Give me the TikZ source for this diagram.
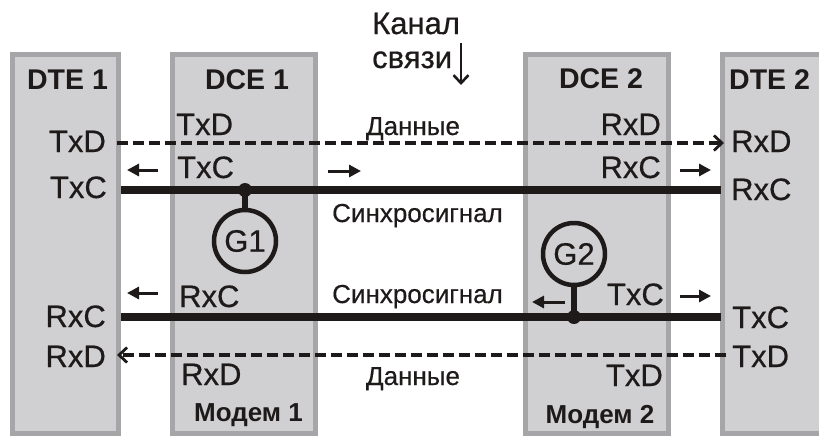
\documentclass[tikz,border=0pt]{standalone}
\usepackage{fontspec}
\setmainfont{Liberation Sans}
\newfontfamily\labfont{Liberation Sans}[FakeBold=0.5]
\usetikzlibrary{arrows.meta}
\definecolor{boxfill}{RGB}{208,208,210}
\definecolor{boxline}{RGB}{166,166,168}
\definecolor{ink}{RGB}{30,26,26}
\begin{document}
\begin{tikzpicture}[x=1pt,y=-1pt,
  box/.style={draw=boxline,fill=boxfill,line width=5pt,inner sep=0pt,outer sep=0pt,anchor=north west},
  lbl/.style={font=\labfont\fontsize{31}{33}\selectfont,text=ink,inner sep=0pt},
  hdr/.style={font=\fontsize{28.5}{30}\selectfont\bfseries,text=ink,inner sep=0pt},
  mdm/.style={font=\fontsize{26}{28}\selectfont\bfseries,text=ink,inner sep=0pt},
  ru/.style={font=\labfont\fontsize{26}{28}\selectfont,text=ink,inner sep=0pt},
  kan/.style={font=\labfont\fontsize{31}{33}\selectfont,text=ink,inner sep=0pt},
  thick line/.style={draw=ink,line width=8pt},
  dataline/.style={draw=ink,line width=3.2pt,dash pattern=on 11pt off 5pt,-{Straight Barb[length=8pt,width=15pt,line width=2.8pt]}},
  dirarrow/.style={draw=ink,line width=3pt,-{Triangle[length=12pt,width=12pt]}},
  gen/.style={draw=ink,line width=4.5pt,circle,minimum size=62pt,inner sep=0pt,font=\labfont\fontsize{31}{32}\selectfont,text=ink},
  stem/.style={draw=ink,line width=6pt},
  dot/.style={fill=ink,circle,minimum size=14pt,inner sep=0pt}
]
\clip (0,0) rectangle (819,437);
\fill[white] (0,0) rectangle (819,437);
% boxes
\node[box,minimum width=106pt,minimum height=379pt] (dte1) at (12.5,54.5) {};
\node[box,minimum width=143pt,minimum height=379pt] (dce1) at (172.5,54.5) {};
\node[box,minimum width=143pt,minimum height=379pt] (dce2) at (525.5,54.5) {};
\node[box,minimum width=130pt,minimum height=379pt] (dte2) at (722.5,54.5) {};
% headers
\node[hdr,anchor=base] (h1) at (67.5,89) {DTE 1};
\node[hdr,anchor=base] (h2) at (247,89) {DCE 1};
\node[hdr,anchor=base] (h3) at (601,88) {DCE 2};
\node[hdr,anchor=base west] (h4) at (729,89) {DTE 2};
\node[mdm,anchor=base] (m1) at (248.5,421) {Модем 1};
\node[mdm,anchor=base] (m2) at (600,423) {Модем 2};
% channel label
\node[kan,anchor=base west] (kan) at (372,34) {Канал};
\node[kan,anchor=base west] (svz) at (372,68) {связи};
\coordinate (kt) at (461,43);
\coordinate (kb) at (461,85);
\draw[draw=ink,line width=2.8pt,-{Straight Barb[length=8pt,width=15pt,line width=2.6pt]}] (kt) -- (kb);
% DTE1 labels
\node[lbl,anchor=base east] (t1txd) at (106,152) {TxD};
\node[lbl,anchor=base east] (t1txc) at (107,198) {TxC};
\node[lbl,anchor=base east] (t1rxc) at (106,327) {RxC};
\node[lbl,anchor=base east] (t1rxd) at (106,367) {RxD};
% DCE1 labels
\node[lbl,anchor=base west] (c1txd) at (176,135) {TxD};
\node[lbl,anchor=base west] (c1txc) at (177,178) {TxC};
\node[lbl,anchor=base west] (c1rxc) at (179,307) {RxC};
\node[lbl,anchor=base west] (c1rxd) at (181,385) {RxD};
% DCE2 labels
\node[lbl,anchor=base east] (c2rxd) at (661,135) {RxD};
\node[lbl,anchor=base east] (c2rxc) at (661,178) {RxC};
\node[lbl,anchor=base east] (c2txc) at (664,305) {TxC};
\node[lbl,anchor=base east] (c2txd) at (663,386) {TxD};
% DTE2 labels
\node[lbl,anchor=base west] (t2rxd) at (731,152) {RxD};
\node[lbl,anchor=base west] (t2rxc) at (731,200) {RxC};
\node[lbl,anchor=base west] (t2txc) at (732,328) {TxC};
\node[lbl,anchor=base west] (t2txd) at (732,367) {TxD};
% middle labels
\node[ru,anchor=base] (d1) at (413,135) {Данные};
\node[ru,anchor=base] (s1) at (417.5,222) {Синхросигнал};
\node[ru,anchor=base] (s2) at (417.5,303) {Синхросигнал};
\node[ru,anchor=base] (d2) at (413,385) {Данные};
% line end points
\coordinate (a1) at (117,143);
\coordinate (a2) at (724,143);
\coordinate (b1) at (121,190);
\coordinate (b2) at (721,190);
\coordinate (c1) at (121,317);
\coordinate (c2) at (721,317);
\coordinate (e1) at (117,355);
\coordinate (e2) at (726,355);
% generators
\node[gen] (g1) at (245,241) {G1};
\node[gen] (g2) at (574,254) {G2};
\coordinate (j1) at (245,190);
\coordinate (j2) at (574,317);
\draw[stem] (j1) -- (g1.north);
\draw[stem] (j2) -- (g2.south);
% main lines
\draw[dataline] (a1) -- (a2);
\draw[thick line] (b1) -- (b2);
\draw[thick line] (c1) -- (c2);
\draw[dataline] (e2) -- (e1);
\node[dot] (dot1) at (j1) {};
\node[dot] (dot2) at (j2) {};
% direction arrows
\coordinate (p1) at (158,170); \coordinate (q1) at (127,170);
\coordinate (p2) at (328,171); \coordinate (q2) at (361,171);
\coordinate (p3) at (680,170); \coordinate (q3) at (711,170);
\coordinate (p4) at (158,293); \coordinate (q4) at (127,293);
\coordinate (p5) at (565,302); \coordinate (q5) at (532,302);
\coordinate (p6) at (680,296); \coordinate (q6) at (711,296);
\draw[dirarrow] (p1) -- (q1);
\draw[dirarrow] (p2) -- (q2);
\draw[dirarrow] (p3) -- (q3);
\draw[dirarrow] (p4) -- (q4);
\draw[dirarrow] (p5) -- (q5);
\draw[dirarrow] (p6) -- (q6);
\end{tikzpicture}
\end{document}
